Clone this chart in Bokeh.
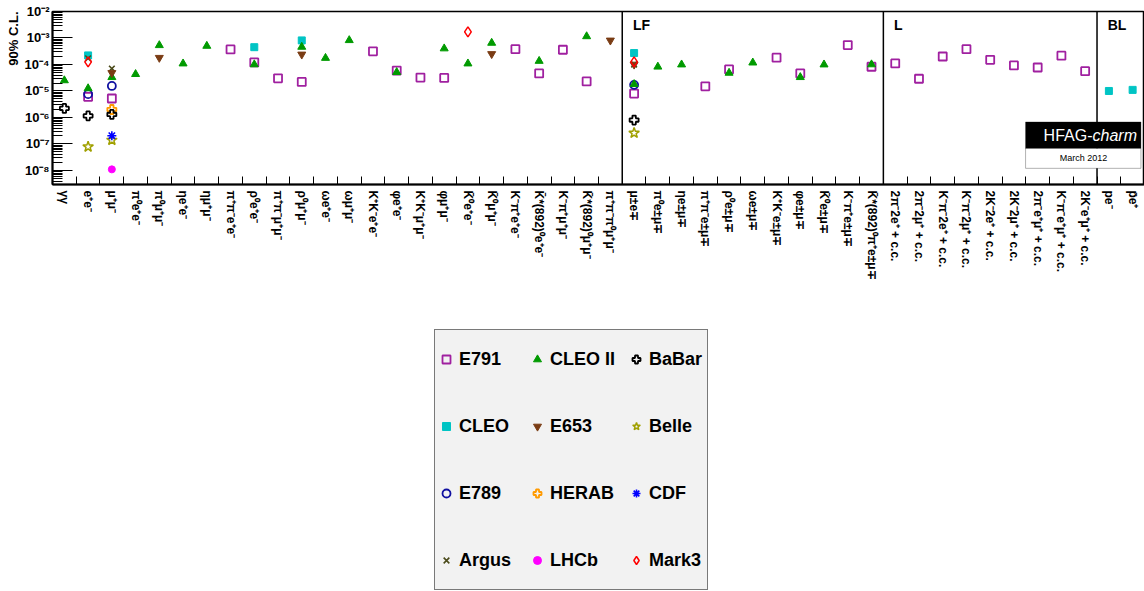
import math
from bokeh.plotting import figure
from bokeh.layouts import column
from bokeh.models import Range1d, FixedTicker, Span, Label, BoxAnnotation, Legend, LegendItem, Title
from bokeh.embed import file_html
from bokeh.resources import INLINE

# ---------------- categories (decay modes) ----------------
cats = ["gg", "ee", "mm", "pi0ee", "pi0mm", "etaee", "etamm", "pipiee", "rhoee", "pipimm",
        "rhomm", "omee", "ommm", "KKee", "phiee", "KKmm", "phimm", "K0ee", "K0mm", "Kpiee",
        "Kstee", "Kpimm", "Kstmm", "pipipi0mm",
        "mue", "pi0em", "etaem", "pipiem", "rhoem", "omem", "KKem", "phiem", "K0em", "Kpiem",
        "Kstpiem",
        "L2pi2e", "L2pi2m", "LKpi2e", "LKpi2m", "L2K2e", "L2K2m", "L2piem", "LKpiem", "L2Kem",
        "pe", "pbe"]

labels = ["γγ", "e⁺e⁻", "μ⁺μ⁻", "π⁰e⁺e⁻", "π⁰μ⁺μ⁻", "ηe⁺e⁻", "ημ⁺μ⁻", "π⁺π⁻e⁺e⁻", "ρ⁰e⁺e⁻",
          "π⁺π⁻μ⁺μ⁻", "ρ⁰μ⁺μ⁻", "ωe⁺e⁻", "ωμ⁺μ⁻", "K⁺K⁻e⁺e⁻", "φe⁺e⁻", "K⁺K⁻μ⁺μ⁻", "φμ⁺μ⁻",
          "K\u0304⁰e⁺e⁻", "K\u0304⁰μ⁺μ⁻", "K⁻π⁺e⁺e⁻", "K\u0304*(892)⁰e⁺e⁻", "K⁻π⁺μ⁺μ⁻",
          "K\u0304*(892)⁰μ⁺μ⁻", "π⁺π⁻π⁰μ⁺μ⁻",
          "μ±e∓", "π⁰e±μ∓", "ηe±μ∓", "π⁺π⁻e±μ∓", "ρ⁰e±μ∓", "ωe±μ∓", "K⁺K⁻e±μ∓", "φe±μ∓",
          "K\u0304⁰e±μ∓", "K⁻π⁺e±μ∓", "K\u0304*(892)⁰π⁺e±μ∓",
          "2π⁻2e⁺ + c.c.", "2π⁻2μ⁺ + c.c.", "K⁻π⁻2e⁺ + c.c.", "K⁻π⁻2μ⁺ + c.c.",
          "2K⁻2e⁺ + c.c.", "2K⁻2μ⁺ + c.c.", "2π⁻e⁺μ⁺ + c.c.", "K⁻π⁻e⁺μ⁺ + c.c.",
          "2K⁻e⁺μ⁺ + c.c.",
          "pe⁻", "p\u0304e⁺"]

section_names = ["LF", "L", "BL"]
section_starts = ["mue", "L2pi2e", "pe"]

# ---------------- 90% C.L. upper limits per experiment ----------------
E791 = {"ee": 6.0e-6, "mm": 5.2e-6, "pipiee": 3.7e-4, "rhoee": 1.2e-4, "pipimm": 3.0e-5,
        "rhomm": 2.2e-5, "KKee": 3.15e-4, "phiee": 5.9e-5, "KKmm": 3.2e-5, "phimm": 3.1e-5,
        "Kpiee": 3.8e-4, "Kstee": 4.6e-5, "Kpimm": 3.6e-4, "Kstmm": 2.3e-5,
        "mue": 8.0e-6, "pipiem": 1.5e-5, "rhoem": 6.5e-5, "KKem": 1.8e-4, "phiem": 4.6e-5,
        "Kpiem": 5.4e-4, "Kstpiem": 8.2e-5,
        "L2pi2e": 1.1e-4, "L2pi2m": 2.9e-5, "LKpi2e": 2.0e-4, "LKpi2m": 3.8e-4,
        "L2K2e": 1.5e-4, "L2K2m": 9.2e-5, "L2piem": 7.7e-5, "LKpiem": 2.15e-4, "L2Kem": 5.6e-5}
CLEO = {"ee": 2.2e-4, "rhoee": 4.5e-4, "rhomm": 8.1e-4, "mue": 2.7e-4, "pe": 1.0e-5, "pbe": 1.1e-5}
E789 = {"ee": 7.6e-6, "mm": 1.55e-5, "mue": 1.7e-5}
Argus = {"ee": 1.7e-4, "mm": 7.0e-5, "mue": 1.0e-4}
CLEOII = {"gg": 2.5e-5, "ee": 1.25e-5, "mm": 3.3e-5, "pi0ee": 4.3e-5, "pi0mm": 5.3e-4,
          "etaee": 1.08e-4, "etamm": 5.0e-4, "rhoee": 1.0e-4, "rhomm": 4.6e-4, "omee": 1.75e-4,
          "ommm": 8.2e-4, "phiee": 5.1e-5, "phimm": 4.0e-4, "K0ee": 1.08e-4, "K0mm": 6.5e-4,
          "Kstee": 1.35e-4, "Kstmm": 1.15e-3,
          "mue": 1.8e-5, "pi0em": 8.2e-5, "etaem": 9.9e-5, "rhoem": 4.8e-5, "omem": 1.17e-4,
          "phiem": 3.3e-5, "K0em": 9.9e-5, "Kstpiem": 1.0e-4}
E653 = {"mm": 4.8e-5, "pi0mm": 1.8e-4, "rhomm": 2.4e-4, "K0mm": 2.5e-4, "pipipi0mm": 8.1e-4,
        "mue": 1.0e-4}
HERAB = {"mm": 2.0e-6}
LHCb = {"mm": 1.1e-8}
BaBar = {"gg": 2.2e-6, "ee": 1.15e-6, "mm": 1.3e-6, "mue": 8.0e-7}
Belle = {"ee": 7.8e-8, "mm": 1.4e-7, "mue": 2.6e-7}
CDF = {"mm": 2.05e-7}
Mark3 = {"ee": 1.25e-4, "K0ee": 1.7e-3, "mue": 1.25e-4}

experiments = [
    ("E791", E791, dict(marker="square", size=8, line_color="#a020a0", fill_alpha=0, line_width=1.8)),
    ("CLEO", CLEO, dict(marker="square", size=7, line_color="#00c4c4", fill_color="#00c4c4", line_width=1)),
    ("E789", E789, dict(marker="circle", size=8, line_color="#1010a0", fill_alpha=0, line_width=1.8)),
    ("Argus", Argus, dict(marker="x", size=8, line_color="#4a4a1a", line_width=1.6)),
    ("CLEO II", CLEOII, dict(marker="triangle", size=8, line_color="#009a00", fill_color="#009a00", line_width=1)),
    ("E653", E653, dict(marker="inverted_triangle", size=8, line_color="#7a3c14", fill_color="#7a3c14", line_width=1)),
    ("HERAB", HERAB, dict(marker="plus", size=9, line_color="#ff9a00", fill_alpha=0, line_width=1.8)),
    ("LHCb", LHCb, dict(marker="circle", size=7, line_color="#ff00ff", fill_color="#ff00ff", line_width=1)),
    ("BaBar", BaBar, dict(marker="plus", size=9, line_color="black", fill_alpha=0, line_width=1.8)),
    ("Belle", Belle, dict(marker="star", size=11, line_color="#a0a000", fill_alpha=0, line_width=1.5)),
    ("CDF", CDF, dict(marker="asterisk", size=9, line_color="#0000ff", line_width=1.6)),
    ("Mark3", Mark3, dict(marker="diamond", size=10, line_color="#ff0000", fill_alpha=0, line_width=1.5)),
]
legend_order = ["E791", "CLEO II", "BaBar", "CLEO", "E653", "Belle",
                "E789", "HERAB", "CDF", "Argus", "LHCb", "Mark3"]

FONT = "Liberation Sans"

# ---------------- main figure ----------------
ncat = len(cats)
ymin, ymax = 10 ** -8.53, 1e-2
p = figure(width=1144, height=310, output_backend="svg", toolbar_location=None,
           x_range=Range1d(0, ncat), y_range=Range1d(ymin, ymax), y_axis_type="log",
           min_border_left=52, min_border_right=0, min_border_top=11, min_border_bottom=126)
p.background_fill_color = "white"
p.border_fill_color = "white"
p.outline_line_color = "black"
p.outline_line_width = 1.5
p.xgrid.visible = False
p.ygrid.visible = False

# y axis
yt = [10.0 ** e for e in range(-8, -1)]
ymt = [k * 10.0 ** e for e in range(-9, -2) for k in range(2, 10) if ymin <= k * 10.0 ** e <= ymax]
sup = {"-": "⁻", "0": "⁰", "1": "¹", "2": "²", "3": "³", "4": "⁴", "5": "⁵", "6": "⁶", "7": "⁷", "8": "⁸", "9": "⁹"}
p.yaxis.ticker = FixedTicker(ticks=yt, minor_ticks=ymt)
p.yaxis.major_label_overrides = {v: "10" + "".join(sup[c] for c in str(e)) for v, e in zip(yt, range(-8, -1))}
p.yaxis.major_tick_in = 20
p.yaxis.major_tick_out = 0
p.yaxis.minor_tick_in = 10
p.yaxis.minor_tick_out = 0
p.yaxis.axis_line_width = 2
p.yaxis.major_label_standoff = 3
p.yaxis.major_label_text_font = FONT
p.yaxis.major_label_text_font_style = "bold"
p.yaxis.major_label_text_font_size = "13px"
p.yaxis.major_label_text_color = "black"

# y axis title, at the top end
p.add_layout(Title(text="90% C.L.", align="right", text_font=FONT, text_font_style="bold",
                   text_font_size="13px", text_color="black", standoff=1, offset=0), "left")

# x axis
p.xaxis.ticker = FixedTicker(ticks=[i + 0.5 for i in range(ncat)], minor_ticks=list(range(1, ncat)))
p.xaxis.major_label_overrides = {i + 0.5: lab for i, lab in enumerate(labels)}
p.xaxis.major_label_orientation = "vertical"
p.xaxis.major_tick_in = 0
p.xaxis.major_tick_out = 0
p.xaxis.minor_tick_in = 8
p.xaxis.minor_tick_out = 0
p.xaxis.axis_line_width = 2
p.xaxis.major_label_standoff = 6
p.xaxis.major_label_text_font = FONT
p.xaxis.major_label_text_font_style = "bold"
p.xaxis.major_label_text_font_size = "12px"
p.xaxis.major_label_text_color = "black"

# section dividers and names
for name, start in zip(section_names, section_starts):
    i0 = cats.index(start)
    p.add_layout(Span(location=i0, dimension="height", line_color="black", line_width=1.5))
    p.add_layout(Label(x=i0 + 0.45, y=10 ** -2.22, text=name, text_baseline="top",
                       text_font=FONT, text_font_style="bold",
                       text_font_size="14px", text_color="black"))

# data
for name, data, style in experiments:
    xs = [cats.index(k) + 0.5 for k in data]
    ys = list(data.values())
    p.scatter(xs, ys, **style)

# HFAG box
p.add_layout(BoxAnnotation(left=40.99, right=45.85, top=10 ** -6.17, bottom=10 ** -7.17,
                           fill_color="black", fill_alpha=1, line_color="black", line_width=1))
p.add_layout(BoxAnnotation(left=40.99, right=45.85, top=10 ** -7.17, bottom=10 ** -7.92,
                           fill_color="white", fill_alpha=1, line_color="black", line_width=1))
p.add_layout(Label(x=43.81, y=10 ** -6.69, text="HFAG-", text_align="right", text_baseline="middle",
                   text_font=FONT, text_font_size="16px", text_color="white"))
p.add_layout(Label(x=43.81, y=10 ** -6.69, text="charm", text_align="left", text_baseline="middle",
                   text_font=FONT, text_font_style="italic", text_font_size="16px",
                   text_color="white"))
p.add_layout(Label(x=43.43, y=10 ** -7.54, text="March 2012", text_align="center", text_baseline="middle",
                   text_font=FONT, text_font_size="9px", text_color="black"))

# ---------------- legend panel (same series, out of view, only to key the legend) ----------------
q = figure(width=1144, height=281, output_backend="svg", toolbar_location=None,
           x_axis_location=None, y_axis_location=None, min_border=0,
           x_range=Range1d(0, ncat), y_range=Range1d(1, 2))
q.outline_line_color = None
q.grid.visible = False
q.background_fill_color = "white"
q.border_fill_color = "white"
legend_renderers = {}
for name, data, style in experiments:
    xs = [cats.index(k) + 0.5 for k in data]
    legend_renderers[name] = q.scatter(xs, list(data.values()), **style)
items = [LegendItem(label=n, renderers=[legend_renderers[n]]) for n in legend_order]
legend = Legend(items=items, location=(382, 1), orientation="horizontal", ncols=3,
                padding=1, spacing=11, margin=0, glyph_width=20, glyph_height=56, label_height=56,
                label_width=57, label_standoff=3, label_text_font=FONT, label_text_font_style="bold",
                label_text_font_size="18px", label_text_color="black",
                border_line_color="black", border_line_width=1,
                background_fill_color="#f2f2f2", background_fill_alpha=1)
q.add_layout(legend, "center")

open("out.html", "w").write(file_html(column(p, q, spacing=0), INLINE))
